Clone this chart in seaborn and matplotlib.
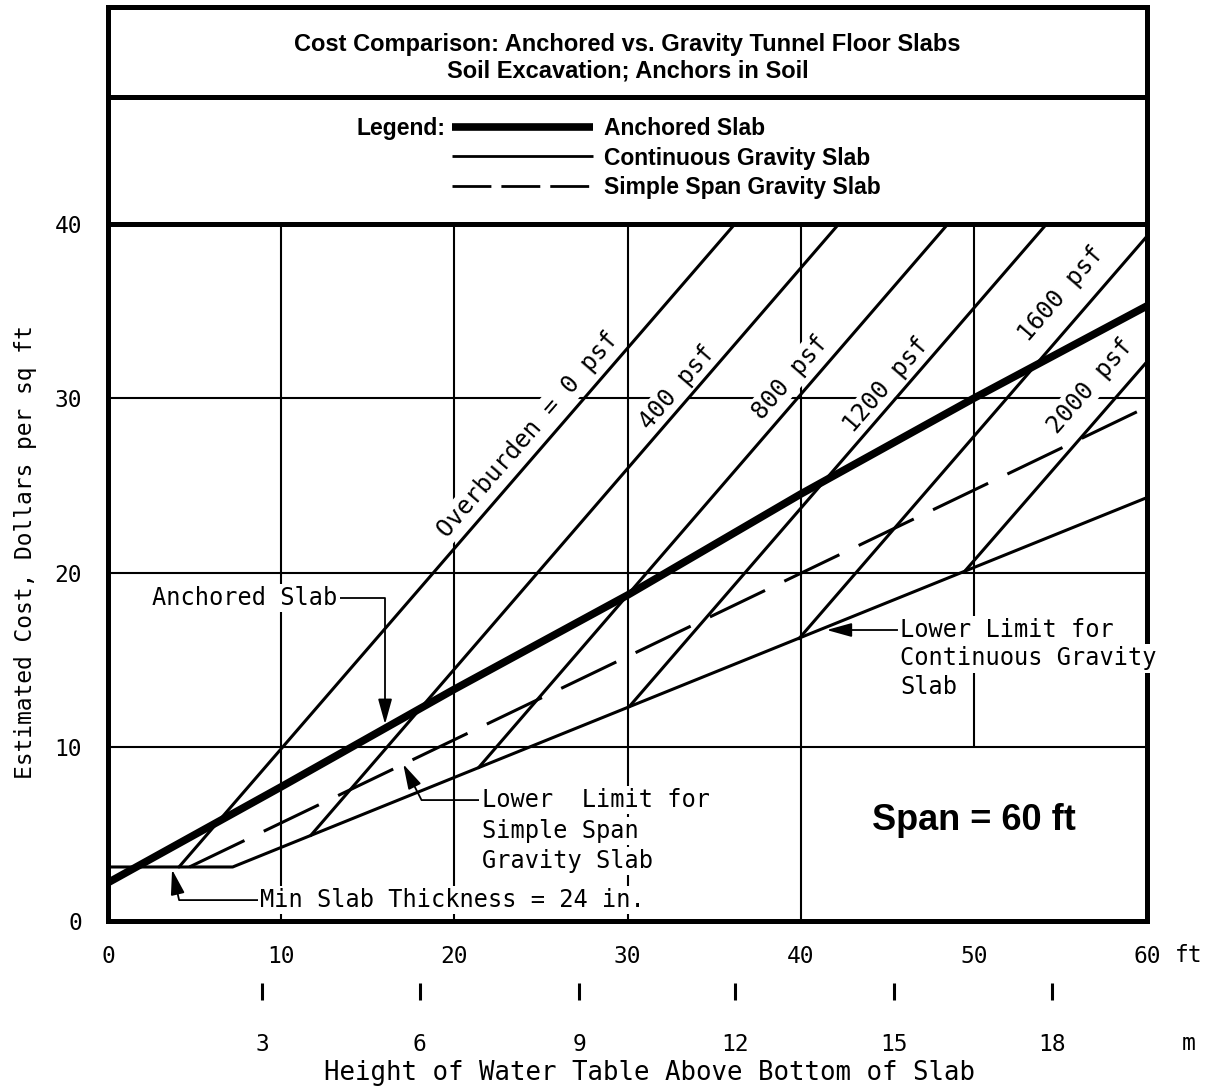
import numpy as np
import pandas as pd
import matplotlib
matplotlib.use("Agg")
import matplotlib.pyplot as plt
import matplotlib.transforms as mtransforms
from matplotlib.lines import Line2D
import seaborn as sns

# ---------------- data ----------------
x_ticks_ft = [0, 10, 20, 30, 40, 50, 60]
y_ticks = [0, 10, 20, 30, 40]
metric_labels = ["3", "6", "9", "12", "15", "18"]
metric_pos_ft = [8.9, 18.0, 27.2, 36.2, 45.4, 54.5]

grid_x = [10, 20, 30, 40, 50]
grid_x_ymin = [0, 0, 0, 0, 10]
grid_y = [10, 20, 30]

anchored_x = [0, 10, 20, 30, 40, 50, 60]
anchored_y = [2.2, 7.7, 13.3, 18.7, 24.5, 30.0, 35.3]

cont_lower_x = [0, 7.2, 60]
cont_lower_y = [3.1, 3.1, 24.3]

simple_lower_x = [4.7, 60]
simple_lower_y = [3.1, 29.5]

overburden_psf = [0, 400, 800, 1200, 1600, 2000]
ob_x_start = [4.1, 11.7, 21.4, 30.1, 39.9, 49.5]
ob_y_start = [3.1, 4.9, 8.8, 12.3, 16.2, 20.1]
ob_x_end = [36.2, 42.2, 48.5, 54.2, 60.0, 60.0]
ob_y_end = [40.0, 40.0, 40.0, 40.0, 39.3, 32.1]
ob_labels = ["Overburden = 0 psf", "400 psf", "800 psf", "1200 psf", "1600 psf", "2000 psf"]
ob_label_x = [24.25, 32.9, 39.4, 44.95, 55.06, 56.7]
ob_label_y = [27.9, 30.6, 31.2, 30.75, 36.0, 30.7]

title_lines = ["Cost Comparison: Anchored vs. Gravity Tunnel Floor Slabs",
               "Soil Excavation; Anchors in Soil"]
legend_labels = ["Anchored Slab", "Continuous Gravity Slab", "Simple Span Gravity Slab"]

# ---------------- style ----------------
sns.set_theme(style="white")
MONO = ["DejaVu Sans Mono", "DejaVu Sans"]
BOLD = ["Liberation Sans", "DejaVu Sans"]
plt.rcParams["font.family"] = MONO
plt.rcParams["text.color"] = "black"
K = "black"
FRAME = 3.6

W, H = 1210, 1091
fig = plt.figure(figsize=(W / 100, H / 100), dpi=100, facecolor="white")


def px_box(x0, y0, x1, y1):
    return [x0 / W, 1 - y1 / H, (x1 - x0) / W, (y1 - y0) / H]


ax_t = fig.add_axes(px_box(108, 7, 1147, 97))
ax_l = fig.add_axes(px_box(108, 97, 1147, 224))
ax = fig.add_axes(px_box(108, 224, 1147, 921))

for a in (ax_t, ax_l, ax):
    a.set_facecolor("white")
    for s in a.spines.values():
        s.set_visible(True)
        s.set_linewidth(FRAME)
        s.set_color(K)
for a in (ax_t, ax_l):
    a.set_xticks([])
    a.set_yticks([])
    a.set_xlim(0, 1)
    a.set_ylim(0, 1)

# ---------------- title box ----------------
ax_t.text(0.5, 1 - (44 - 7) / 90, title_lines[0], transform=ax_t.transAxes,
          ha="center", va="center", fontsize=17, weight="bold", family=BOLD)
ax_t.text(0.5, 1 - (71 - 7) / 90, title_lines[1], transform=ax_t.transAxes,
          ha="center", va="center", fontsize=17, weight="bold", family=BOLD)

# ---------------- legend box ----------------
handles = [Line2D([], [], color=K, lw=5.5, solid_capstyle="butt"),
           Line2D([], [], color=K, lw=2.0, solid_capstyle="butt"),
           Line2D([], [], color=K, lw=2.0, ls=(0, (14, 3.6)), dash_capstyle="butt")]
leg = ax_l.legend(handles, legend_labels, loc="center left",
                  bbox_to_anchor=((452 - 108) / 1039, 1 - (158 - 97) / 127),
                  frameon=False, borderpad=0, borderaxespad=0,
                  handlelength=6.15, handletextpad=0.48, labelspacing=0.3,
                  prop=dict(family=BOLD, weight="bold", size=16.5))
ax_l.text((445 - 108) / 1039, 1 - (128 - 97) / 127, "Legend:", ha="right", va="center",
          fontsize=16.5, weight="bold", family=BOLD, transform=ax_l.transAxes)

# ---------------- main chart ----------------
ax.set_xlim(0, 60)
ax.set_ylim(0, 40)

ax.vlines(grid_x, grid_x_ymin, 40, colors=K, lw=1.5, zorder=1)
ax.hlines(grid_y, 0, 60, colors=K, lw=1.5, zorder=1)

ob_df = pd.DataFrame({
    "psf": np.repeat(overburden_psf, 2),
    "x": np.ravel(np.column_stack([ob_x_start, ob_x_end])),
    "y": np.ravel(np.column_stack([ob_y_start, ob_y_end])),
})
sns.lineplot(data=ob_df, x="x", y="y", units="psf", estimator=None, color=K,
             lw=2.2, ax=ax, zorder=4, legend=False, sort=False)
sns.lineplot(x=cont_lower_x, y=cont_lower_y, color=K, lw=2.2, ax=ax, zorder=4, sort=False)
sns.lineplot(x=simple_lower_x, y=simple_lower_y, color=K, lw=2.2, ax=ax, zorder=4,
             sort=False, linestyle=(0, (20, 7)))
sns.lineplot(x=anchored_x, y=anchored_y, color=K, lw=5.5, ax=ax, zorder=5, sort=False)

ax.set_xlim(0, 60)
ax.set_ylim(0, 40)

BB = dict(boxstyle="square,pad=0.1", fc="white", ec="none")

# overburden labels along lines
for lab, lx, ly, xs, ys, xe, ye in zip(ob_labels, ob_label_x, ob_label_y,
                                       ob_x_start, ob_y_start, ob_x_end, ob_y_end):
    p0 = ax.transData.transform((xs, ys))
    p1 = ax.transData.transform((xe, ye))
    ang = np.degrees(np.arctan2(p1[1] - p0[1], p1[0] - p0[0]))
    ax.text(lx, ly, lab, rotation=ang, rotation_mode="anchor", ha="center",
            va="center", fontsize=17.5, bbox=BB, zorder=3)

ARW = dict(arrowstyle="-|>,head_length=0.9,head_width=0.25", color=K, lw=1.3,
           shrinkA=0, shrinkB=0)

ax.annotate("Anchored Slab", xy=(16.0, 11.3), xytext=(2.54, 18.54), ha="left", va="center",
            fontsize=17, bbox=BB, zorder=3,
            arrowprops=dict(ARW, connectionstyle="angle,angleA=0,angleB=90,rad=0"))

ax.annotate("Min Slab Thickness = 24 in.", xy=(3.7, 2.95), xytext=(8.8, 1.2), ha="left",
            va="center", fontsize=17, bbox=BB, zorder=3,
            arrowprops=dict(ARW, connectionstyle="angle,angleA=0,angleB=103,rad=0"))

ax.annotate("Lower  Limit for", xy=(17.05, 9.0), xytext=(21.58, 6.94), ha="left",
            va="center", fontsize=17, bbox=BB, zorder=3,
            arrowprops=dict(ARW, connectionstyle="angle,angleA=0,angleB=117,rad=0"))
ax.text(21.58, 5.16, "Simple Span", ha="left", va="center", fontsize=17, bbox=BB, zorder=3)
ax.text(21.58, 3.44, "Gravity Slab", ha="left", va="center", fontsize=17, bbox=BB, zorder=3)

ax.annotate("Lower Limit for", xy=(41.5, 16.7), xytext=(45.73, 16.7), ha="left",
            va="center", fontsize=17, bbox=BB, zorder=3,
            arrowprops=dict(ARW, connectionstyle="arc3,rad=0"))
ax.text(45.73, 15.07, "Continuous Gravity", ha="left", va="center", fontsize=17, bbox=BB, zorder=3)
ax.text(45.73, 13.43, "Slab", ha="left", va="center", fontsize=17, bbox=BB, zorder=3)

ax.text(50.0, 5.74, "Span = 60 ft", ha="center", va="center", fontsize=26,
        weight="bold", family=BOLD, zorder=3)

# ---------------- axes / ticks ----------------
ax.set_xticks(x_ticks_ft)
ax.set_xticklabels([str(v) for v in x_ticks_ft])
ax.set_yticks(y_ticks)
ax.set_yticklabels([str(v) for v in y_ticks])
ax.tick_params(axis="both", length=0, labelsize=16.5, colors=K)
ax.tick_params(axis="x", pad=17)
ax.tick_params(axis="y", pad=18.7)

sec = ax.secondary_xaxis((921 - 983) / 697)
sec.set_xticks(metric_pos_ft)
sec.set_xticklabels(metric_labels)
sec.tick_params(axis="x", length=12, width=2.2, pad=24, labelsize=16.5, colors=K, direction="out")
for s in sec.spines.values():
    s.set_visible(False)

trans = mtransforms.blended_transform_factory(ax.transData, ax.transAxes)
ax.text(62.4, (921 - 955) / 697, "ft", transform=trans, ha="center", va="center",
        fontsize=16.5, clip_on=False)
ax.text(62.4, (921 - 1044) / 697, "m", transform=trans, ha="center", va="center",
        fontsize=16.5, clip_on=False)

ax.set_xlabel("Height of Water Table Above Bottom of Slab", fontsize=18.5, color=K)
ax.xaxis.set_label_coords((650 - 108) / 1039, (921 - 1060) / 697)
ax.set_ylabel("Estimated Cost, Dollars per sq ft", fontsize=16.5, color=K)
ax.yaxis.set_label_coords((37 - 108) / 1039, (921 - 552) / 697)

fig.savefig("out.png", dpi=100, facecolor="white")
